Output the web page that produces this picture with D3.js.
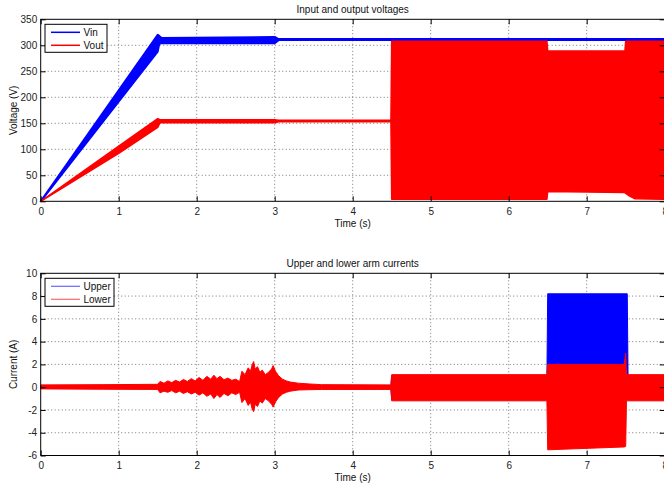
<!DOCTYPE html>
<html>
<head>
<meta charset="utf-8">
<script src="https://cdn.jsdelivr.net/npm/d3@7"></script>
<style>
  body { margin: 0; background: #fff; }
  svg { display: block; font-family: "Liberation Sans", Arial, sans-serif; }
</style>
</head>
<body>
<svg id="chart" width="664" height="487"></svg>
<script>
// envelope rows: [time (s), min, max]
const vinEnv = [
  [0, 0, 0], [1.5, 288, 320], [1.52, 303, 318], [1.55, 304, 314],
  [3.0, 304, 316], [3.05, 310, 312], [8, 310, 312]
];
const voutEnv = [
  [0, 0, 0], [1.0, 92, 106], [1.5, 142, 159], [1.53, 151, 157],
  [3.0, 151, 157], [3.05, 153, 156], [4.49, 153, 156], [4.5, 4, 308],
  [6.49, 4, 308], [6.5, 19, 289], [7.49, 17, 289], [7.5, 15, 308],
  [7.55, 10, 308], [7.62, 5, 308], [8, 4, 308]
];
const upperEnv = [
  [0, -0.1, 0.15], [4.49, -0.1, 0.15], [4.5, -1.1, 1.0], [6.49, -1.1, 1.0],
  [6.5, 1.5, 8.2], [7.52, 1.5, 8.2], [7.53, -1.1, 1.0], [8, -1.1, 1.0]
];
const lowerEnv = [
  [0, -0.15, 0.2], [0.8, -0.18, 0.22], [1.5, -0.2, 0.25], [1.53, -0.5, 0.5],
  [1.58, -0.35, 0.35], [1.63, -0.45, 0.55], [1.68, -0.3, 0.4], [1.73, -0.5, 0.6],
  [1.78, -0.35, 0.45], [1.83, -0.55, 0.68], [1.88, -0.4, 0.5], [1.93, -0.6, 0.75],
  [1.98, -0.45, 0.55], [2.03, -0.7, 0.85], [2.08, -0.5, 0.6], [2.13, -0.8, 0.95],
  [2.18, -0.6, 0.7], [2.22, -1.0, 1.05], [2.26, -0.65, 0.75], [2.30, -0.9, 0.95],
  [2.35, -0.55, 0.65], [2.40, -0.75, 0.8], [2.45, -0.5, 0.6], [2.50, -0.65, 0.7],
  [2.55, -0.45, 0.5], [2.58, -1.35, 1.4], [2.62, -1.0, 1.1], [2.66, -1.6, 1.7],
  [2.69, -1.3, 1.4], [2.71, -1.9, 1.95], [2.73, -2.15, 2.25], [2.75, -1.5, 1.6],
  [2.78, -1.7, 1.8], [2.81, -1.2, 1.3], [2.84, -1.4, 1.5], [2.88, -1.0, 1.1],
  [2.92, -1.2, 1.3], [2.96, -1.5, 1.6], [2.98, -1.75, 1.9], [3.01, -1.3, 1.4],
  [3.05, -0.9, 1.0], [3.10, -0.6, 0.7], [3.15, -0.45, 0.55], [3.20, -0.35, 0.45],
  [3.30, -0.25, 0.35], [3.45, -0.22, 0.28], [3.6, -0.2, 0.22], [4.49, -0.2, 0.2],
  [4.5, -1.2, 1.1], [6.49, -1.2, 1.1], [6.5, -5.5, 2.0], [7.48, -5.25, 2.0],
  [7.5, -5.2, 3.0], [7.51, -1.2, 1.1], [8, -1.2, 1.1]
];

const timeTicks = [0, 1, 2, 3, 4, 5, 6, 7, 8];
const voltTicks = [0, 50, 100, 150, 200, 250, 300, 350];
const currTicks = [-6, -4, -2, 0, 2, 4, 6, 8, 10];

const svg = d3.select("#chart");
const left = 40.7;
const right = 664.7;

function panel(opts) {
  const x = d3.scaleLinear().domain([0, 8]).range([left, right]);
  const y = d3.scaleLinear().domain(opts.yDomain).range([opts.bottom, opts.top]);
  const g = svg.append("g");

  // dotted grid
  g.append("g")
    .selectAll("line")
    .data(timeTicks.slice(1, -1))
    .join("line")
    .attr("x1", (d) => x(d)).attr("x2", (d) => x(d))
    .attr("y1", opts.top).attr("y2", opts.bottom)
    .attr("stroke", "#777").attr("stroke-dasharray", "1,2.5");
  g.append("g")
    .selectAll("line")
    .data(opts.yTicks.slice(1, -1))
    .join("line")
    .attr("x1", left).attr("x2", right)
    .attr("y1", (d) => y(d)).attr("y2", (d) => y(d))
    .attr("stroke", "#777").attr("stroke-dasharray", "1,2.5");

  // envelopes
  const area = d3.area()
    .x((d) => x(d[0]))
    .y0((d) => y(d[1]))
    .y1((d) => y(d[2]));
  opts.series.forEach((s) => {
    g.append("path")
      .datum(s.env)
      .attr("d", area)
      .attr("fill", s.color)
      .attr("stroke", s.color)
      .attr("stroke-width", s.width)
      .attr("stroke-linejoin", "round");
  });

  // axes with inward ticks
  g.append("g")
    .attr("transform", `translate(0,${opts.bottom})`)
    .call(d3.axisBottom(x).tickValues(timeTicks).tickSizeInner(-5).tickSizeOuter(0).tickPadding(6.5).tickFormat((d) => String(d)))
    .call((a) => a.select(".domain").remove());
  g.append("g")
    .attr("transform", `translate(0,${opts.top})`)
    .call(d3.axisTop(x).tickValues(timeTicks).tickSizeInner(-5).tickSizeOuter(0).tickFormat(""))
    .call((a) => a.select(".domain").remove());
  g.append("g")
    .attr("transform", `translate(${left},0)`)
    .call(d3.axisLeft(y).tickValues(opts.yTicks).tickSizeInner(-5).tickSizeOuter(0).tickPadding(3.5).tickFormat((d) => String(d)))
    .call((a) => a.select(".domain").remove());
  g.append("g")
    .attr("transform", `translate(${right},0)`)
    .call(d3.axisRight(y).tickValues(opts.yTicks).tickSizeInner(-5).tickSizeOuter(0).tickFormat(""))
    .call((a) => a.select(".domain").remove());
  g.selectAll(".tick text").attr("font-size", 10).attr("fill", "#222").attr("font-family", "Liberation Sans, Arial, sans-serif");
  g.selectAll(".tick line").attr("stroke", "#000");

  g.append("rect")
    .attr("x", left).attr("y", opts.top)
    .attr("width", right - left).attr("height", opts.bottom - opts.top)
    .attr("fill", "none").attr("stroke", "#000").attr("stroke-width", 1);

  // labels
  svg.append("text")
    .attr("x", 352.7).attr("y", opts.top - 6.5)
    .attr("text-anchor", "middle").attr("font-size", 10).attr("fill", "#111")
    .text(opts.title);
  svg.append("text")
    .attr("x", 352.7).attr("y", opts.bottom + 25.5)
    .attr("text-anchor", "middle").attr("font-size", 10).attr("fill", "#111")
    .text("Time (s)");
  svg.append("text")
    .attr("transform", `translate(16.5,${(opts.top + opts.bottom) / 2}) rotate(-90)`)
    .attr("text-anchor", "middle").attr("font-size", 10).attr("fill", "#111")
    .text(opts.yLabel);

  // legend
  const lg = svg.append("g").attr("transform", `translate(45,${opts.top + 5})`);
  lg.append("rect")
    .attr("width", opts.legendW).attr("height", 28)
    .attr("fill", "#fff").attr("stroke", "#000").attr("stroke-width", 1);
  opts.series.forEach((s, i) => {
    lg.append("line")
      .attr("x1", 6).attr("x2", 35)
      .attr("y1", 8 + i * 13).attr("y2", 8 + i * 13)
      .attr("stroke", s.color).attr("stroke-width", opts.legendStroke)
      .attr("stroke-opacity", opts.legendOpacity);
    lg.append("text")
      .attr("x", 38.5).attr("y", 11.5 + i * 13)
      .attr("font-size", 10).attr("fill", "#111")
      .text(s.name);
  });
}

panel({
  top: 19.3, bottom: 201.3, yDomain: [0, 350], yTicks: voltTicks,
  title: "Input and output voltages", yLabel: "Voltage (V)",
  legendW: 62, legendStroke: 1.5, legendOpacity: 1,
  series: [
    { name: "Vin", env: vinEnv, color: "#0000ff", width: 2 },
    { name: "Vout", env: voutEnv, color: "#ff0000", width: 1.5 }
  ]
});

panel({
  top: 273.3, bottom: 455.5, yDomain: [-6, 10], yTicks: currTicks,
  title: "Upper and lower arm currents", yLabel: "Current (A)",
  legendW: 69, legendStroke: 1.2, legendOpacity: 0.6,
  series: [
    { name: "Upper", env: upperEnv, color: "#0000ff", width: 1 },
    { name: "Lower", env: lowerEnv, color: "#ff0000", width: 1 }
  ]
});
</script>
</body>
</html>
